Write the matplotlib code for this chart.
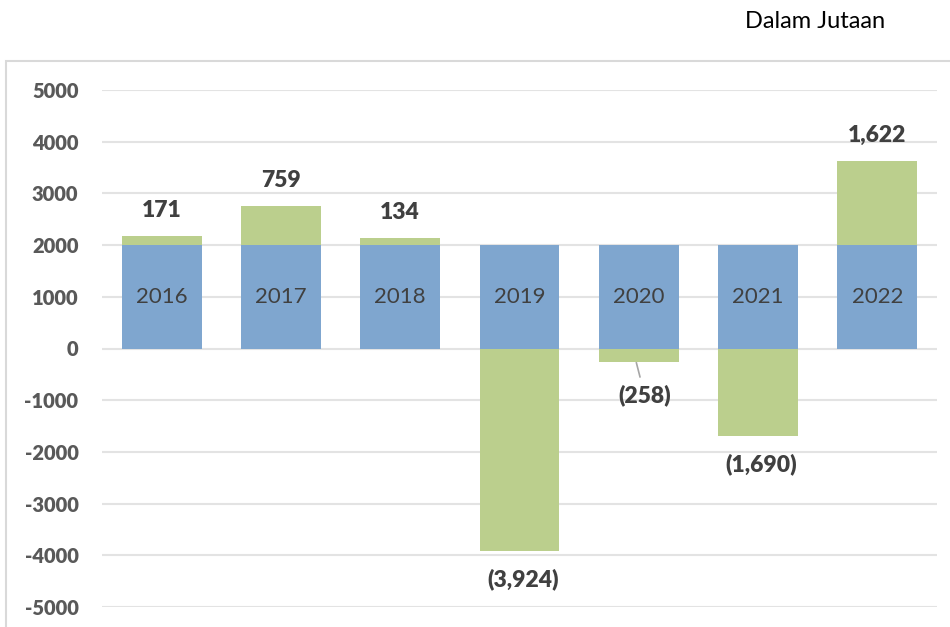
import matplotlib.pyplot as plt
from matplotlib.patches import Rectangle

# Data
years = ['2016', '2017', '2018', '2019', '2020', '2021', '2022']
base = [2000, 2000, 2000, 2000, 2000, 2000, 2000]
changes = [171, 759, 134, -3924, -258, -1690, 1622]
change_labels = ['171', '759', '134', '(3,924)', '(258)', '(1,690)', '1,622']
yticks = [5000, 4000, 3000, 2000, 1000, 0, -1000, -2000, -3000, -4000, -5000]

blue = '#7fa6cf'
green = '#bbcf8d'
grid_col = '#e3e3e3'
text_col = '#404040'

plt.rcParams['font.family'] = ['Lato', 'DejaVu Sans']

W, H = 950, 627
fig = plt.figure(figsize=(W / 100, H / 100), dpi=100)

# outer chart border
fig.patches.append(Rectangle((6 / W, -0.05), 1.1, 1.05 - 61 / H, transform=fig.transFigure,
                             fill=False, edgecolor='#d9d9d9', linewidth=1.5))

ax = fig.add_axes([102 / W, 1 - 607 / H, (937 - 102) / W, (607 - 90) / H])

x = list(range(len(years)))
ax.bar(x, base, width=0.67, color=blue, zorder=2)
bottoms = [b if c > 0 else 0 for b, c in zip(base, changes)]
ax.bar(x, changes, width=0.67, bottom=bottoms, color=green, zorder=2)

for xi, yr, b in zip(x, years, base):
    ax.text(xi, b / 2, yr, ha='center', va='center', fontsize=16, color=text_col, zorder=3)

lab_kw = dict(ha='center', va='center', fontsize=16.5, fontweight='heavy', color=text_col)
for xi, c, bt, lab in zip(x, changes, bottoms, change_labels):
    if c > 0:
        ax.text(xi, bt + c + 500, lab, **lab_kw)
    elif lab == '(258)':
        ax.plot([xi - 0.02, xi + 0.01], [c - 20, c - 290], color='#a6a6a6', lw=1.2, zorder=3)
        ax.text(xi + 0.05, c - 640, lab, **lab_kw)
    else:
        ax.text(xi + 0.03, c - 540, lab, **lab_kw)

ax.set_xlim(-0.5, len(years) - 0.5)
ax.set_ylim(-5000, 5000)
ax.set_yticks(yticks)
ax.set_yticklabels([str(t) for t in yticks], fontsize=14.5, fontweight='heavy', color='#595959')
ax.set_xticks([])
ax.tick_params(axis='y', length=0, pad=17)
ax.yaxis.grid(True, color=grid_col, linewidth=1.5, zorder=0)
ax.set_axisbelow(True)
for s in ax.spines.values():
    s.set_visible(False)

fig.text(815 / W, 1 - 22 / H, 'Dalam Jutaan', ha='center', va='center', fontsize=17, color='black')

fig.savefig('out.png', dpi=100)
